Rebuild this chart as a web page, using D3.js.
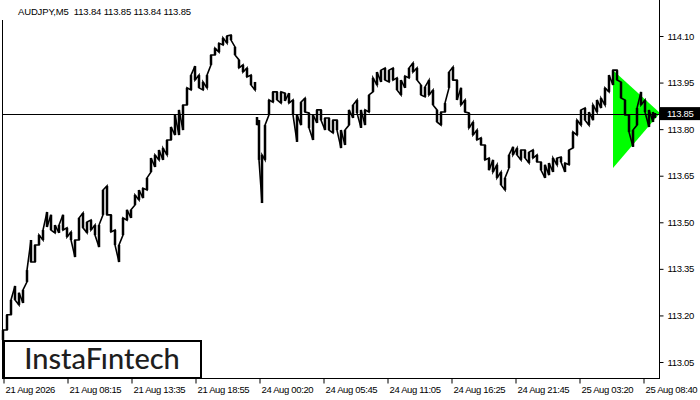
<!DOCTYPE html>
<html><head><meta charset="utf-8">
<script src="https://cdn.jsdelivr.net/npm/d3@7"></script>
<style>body{margin:0;background:#fff}svg{display:block}</style>
</head><body>
<script>
const symbolTitle = "AUDJPY,M5  113.84 113.85 113.84 113.85";
const xTickBars = [0, 64, 128, 192, 256, 320, 384, 448, 512, 576, 640];
const xTickLabels = ["21 Aug 2026", "21 Aug 08:15", "21 Aug 13:35", "21 Aug 18:55", "24 Aug 00:20",
  "24 Aug 05:45", "24 Aug 11:05", "24 Aug 16:25", "24 Aug 21:45", "25 Aug 03:20", "25 Aug 08:40"];
const yTickValues = [113.05, 113.20, 113.35, 113.50, 113.65, 113.80, 113.95, 114.10];
const lastPrice = 113.85;
const weekendGapBar = 253;
const bars = [0,4,8,12,16,20,24,28,32,36,40,44,48,52,56,60,64,68,72,76,80,84,88,92,96,100,104,108,112,116,120,124,128,132,136,140,144,148,152,156,160,164,168,172,176,180,184,188,192,196,200,204,208,212,216,220,224,228,232,236,240,244,248,252,
  254,256,259,262,266,270,274,278,282,286,290,294,298,302,306,310,314,318,322,326,330,334,338,342,346,350,354,358,362,366,370,374,378,382,386,390,394,398,402,406,410,414,418,422,426,430,434,438,442,446,450,454,458,462,466,470,474,478,482,486,490,494,498,502,506,510,514,518,522,526,530,534,538,542,546,550,554,558,562,566,570,574,578,582,586,590,594,598,602,606,610,614,618,622,626,630,634,638,642,646,650,652];
const highs = [113.153,113.202,113.250,113.295,113.273,113.282,113.346,113.443,113.427,113.459,113.475,113.533,113.524,113.491,113.491,113.524,113.482,113.469,113.443,113.514,113.530,113.501,113.507,113.491,113.491,113.604,113.617,113.524,113.475,113.427,113.514,113.540,113.540,113.588,113.604,113.610,113.643,113.707,113.717,113.733,113.739,113.765,113.807,113.846,113.862,113.878,113.933,113.974,114.003,113.974,113.952,113.974,114.039,114.061,114.077,114.094,114.100,114.103,114.065,114.023,114.007,113.997,113.974,113.952,
  113.839,113.829,113.717,113.813,113.894,113.920,113.920,113.920,113.916,113.916,113.894,113.846,113.887,113.900,113.852,113.846,113.862,113.862,113.836,113.836,113.829,113.829,113.797,113.797,113.862,113.878,113.894,113.862,113.862,113.910,113.965,113.984,113.990,113.997,113.990,113.997,113.965,113.958,113.971,113.997,114.013,113.997,113.942,113.936,113.958,113.926,113.862,113.855,113.884,113.984,114.000,113.958,113.933,113.894,113.852,113.823,113.797,113.772,113.749,113.707,113.701,113.685,113.662,113.643,113.717,113.743,113.739,113.733,113.733,113.726,113.733,113.717,113.694,113.685,113.691,113.707,113.707,113.710,113.691,113.733,113.791,113.829,113.862,113.868,113.855,113.878,113.894,113.900,113.933,113.974,113.990,113.990,113.952,113.894,113.846,113.797,113.868,113.920,113.894,113.862,113.855,113.852];
const lows = [113.121,113.153,113.202,113.250,113.234,113.240,113.308,113.372,113.372,113.427,113.443,113.485,113.475,113.466,113.466,113.475,113.453,113.443,113.388,113.443,113.482,113.466,113.475,113.459,113.420,113.524,113.524,113.469,113.427,113.372,113.459,113.507,113.514,113.556,113.572,113.578,113.604,113.662,113.678,113.701,113.701,113.717,113.765,113.781,113.781,113.797,113.878,113.926,113.958,113.933,113.926,113.933,114.007,114.039,114.048,114.071,114.077,114.087,114.039,113.997,113.984,113.968,113.942,113.926,
  113.813,113.701,113.562,113.701,113.846,113.887,113.894,113.884,113.891,113.884,113.846,113.759,113.813,113.855,113.804,113.765,113.820,113.829,113.797,113.797,113.788,113.797,113.739,113.749,113.813,113.836,113.852,113.804,113.813,113.855,113.920,113.942,113.952,113.958,113.952,113.958,113.926,113.910,113.933,113.965,113.984,113.958,113.910,113.904,113.910,113.878,113.823,113.813,113.855,113.933,113.958,113.894,113.878,113.855,113.804,113.781,113.765,113.749,113.701,113.668,113.662,113.643,113.620,113.604,113.675,113.717,113.717,113.701,113.707,113.691,113.707,113.694,113.668,113.643,113.652,113.662,113.685,113.694,113.662,113.685,113.739,113.781,113.813,113.829,113.813,113.829,113.855,113.868,113.878,113.920,113.942,113.958,113.900,113.846,113.791,113.743,113.813,113.878,113.855,113.807,113.823,113.836];
const patternBars = [610, 610, 657];
const patternPrices = [113.990, 113.675, 113.852];

const W = 700, H = 400;
const FONT = "'Liberation Sans', Arial, sans-serif";
const svg = d3.select("body").append("svg").attr("width", W).attr("height", H)
  .style("font-family", FONT);
svg.append("rect").attr("width", W).attr("height", H).attr("fill", "#fff");

const x = d3.scaleLinear().domain([0, 656]).range([3, 659]);
const y = d3.scaleLinear().domain([113.05, 114.10]).range([362, 36]);

// pattern triangle
svg.append("polygon")
  .attr("points", patternBars.map((b, i) => [x(b), y(patternPrices[i])].join(",")).join(" "))
  .attr("fill", "#00ff00");

// last price line
svg.append("line").attr("x1", 3).attr("x2", 659)
  .attr("y1", Math.round(y(lastPrice)) + 0.5).attr("y2", Math.round(y(lastPrice)) + 0.5)
  .attr("stroke", "#000").attr("stroke-width", 1);

// price series
const pts = bars.map((b, i) => ({b, hi: highs[i], lo: lows[i], mid: (highs[i] + lows[i]) / 2}));
const segs = [pts.filter(p => p.b <= weekendGapBar), pts.filter(p => p.b > weekendGapBar)];
segs.forEach(seg => {
  const path = [];
  seg.forEach((p, i) => {
    const next = seg[i + 1];
    const up = next ? next.mid >= p.mid : true;
    if (up) { path.push([x(p.b), y(p.lo)]); path.push([x(p.b), y(p.hi)]); }
    else { path.push([x(p.b), y(p.hi)]); path.push([x(p.b), y(p.lo)]); }
  });
  svg.append("path").attr("d", d3.line()(path)).attr("fill", "none")
    .attr("stroke", "#000").attr("stroke-width", 1.6).attr("stroke-linejoin", "miter");
  svg.selectAll(null).data(seg).enter().append("rect")
    .attr("x", d => x(d.b) - 1.25).attr("width", 2.5)
    .attr("y", d => y(d.hi)).attr("height", d => Math.max(1, y(d.lo) - y(d.hi)))
    .attr("fill", "#000");
});

// frame lines
svg.append("line").attr("x1", 659.5).attr("x2", 659.5).attr("y1", 0).attr("y2", 378).attr("stroke", "#000");
svg.append("line").attr("x1", 2.5).attr("x2", 2.5).attr("y1", 20).attr("y2", 378).attr("stroke", "#000");
svg.append("line").attr("x1", 2).attr("x2", 660).attr("y1", 378.5).attr("y2", 378.5).attr("stroke", "#000");

// right axis
const yAxis = d3.axisRight(y).tickValues(yTickValues).tickSize(4).tickPadding(4)
  .tickFormat(d3.format(".2f"));
const ya = svg.append("g").attr("transform", "translate(659.5,0)").call(yAxis);
ya.select(".domain").remove();
ya.selectAll("text").attr("font-size", 9.5).attr("fill", "#000")
  .attr("font-family", FONT).style("letter-spacing", "-0.3px");

// price label
const py = y(lastPrice);
svg.append("rect").attr("x", 660).attr("y", py - 6.5).attr("width", 40).attr("height", 13).attr("fill", "#000");
svg.append("text").attr("x", 667).attr("y", py + 3.5).attr("fill", "#fff").attr("font-size", 9.5)
  .style("letter-spacing", "-0.3px").text(d3.format(".2f")(lastPrice));

// bottom axis
const xAxis = d3.axisBottom(x).tickValues(xTickBars).tickSize(5)
  .tickFormat((d, i) => xTickLabels[i]);
const xa = svg.append("g").attr("transform", "translate(0,378.5)").call(xAxis);
xa.select(".domain").remove();
xa.selectAll(".tick line").attr("transform", "translate(0.5,0)");
xa.selectAll("text").attr("text-anchor", "start").attr("x", 2).attr("y", 8).attr("dy", "0.71em")
  .attr("font-size", 9.5).attr("fill", "#000")
  .attr("font-family", FONT).style("letter-spacing", "-0.35px");

// title
svg.append("text").attr("x", 18).attr("y", 15).attr("font-size", 9.5).attr("fill", "#000")
  .style("white-space", "pre").style("letter-spacing", "-0.15px").attr("xml:space", "preserve").text(symbolTitle);

// logo
svg.append("rect").attr("x", 4).attr("y", 341).attr("width", 197).attr("height", 37)
  .attr("fill", "#fff").attr("stroke", "#000").attr("stroke-width", 2);
svg.append("text").attr("x", 102).attr("y", 369).attr("text-anchor", "middle")
  .attr("font-family", "Lato, 'Open Sans', sans-serif").attr("font-weight", 500)
  .attr("font-size", 29).attr("fill", "#1e1e1e").text("InstaFıntech");
</script>
</body></html>
